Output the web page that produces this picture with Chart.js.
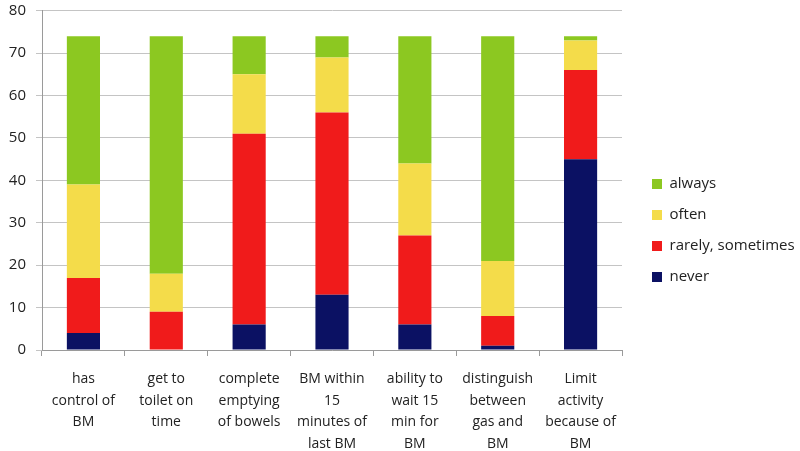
<!DOCTYPE html><html lang="en">
<head>
  <meta charset="UTF-8" />
  <title>BM questionnaire</title>
  <style>
    * { margin: 0; padding: 0; box-sizing: border-box; }
    body { background: #fff; width: 800px; height: 451px; overflow: hidden; }
    #wrap { position: relative; width: 800px; height: 451px; }
  </style>
</head>
<body>
  <div id="wrap"><canvas id="bmChart"></canvas></div>
  <script src="https://cdn.jsdelivr.net/npm/chart.js"></script>
  <script>
    const categories = [
      ["has", "control of", "BM"],
      ["get to", "toilet on", "time"],
      ["complete", "emptying", "of bowels"],
      ["BM within", "15", "minutes of", "last BM"],
      ["ability to", "wait 15", "min for", "BM"],
      ["distinguish", "between", "gas and", "BM"],
      ["Limit", "activity", "because of", "BM"]
    ];
    const never     = [4, 0, 6, 13, 6, 1, 45];
    const rarely    = [13, 9, 45, 43, 21, 7, 21];
    const often     = [22, 9, 14, 13, 17, 13, 7];
    const always    = [35, 56, 9, 5, 30, 53, 1];
    const yTicks = [0, 10, 20, 30, 40, 50, 60, 70, 80];

    const font = "'Open Sans', 'DejaVu Sans', sans-serif";

    const ds = (label, data, color) => ({
      label, data, backgroundColor: color, borderWidth: 0,
      barPercentage: 0.4, categoryPercentage: 1.0
    });

    // legend sits a bit further from the plot than chart.js puts it
    const legendSpot = {
      id: 'legendSpot',
      afterInit(chart) {
        const lg = chart.legend;
        const fit = lg.fit;
        lg.fit = function () { fit.call(this); this.width = 178; };
      },
      afterLayout(chart) {
        chart.legend.left += 14;
        chart.legend.right += 14;
      }
    };

    new Chart(document.getElementById('bmChart'), {
      type: 'bar',
      data: {
        labels: categories,
        datasets: [
          ds('never', never, '#0b1163'),
          ds('rarely, sometimes', rarely, '#f01b1b'),
          ds('often', often, '#f4dc4a'),
          ds('always', always, '#8cc821')
        ]
      },
      plugins: [legendSpot],
      options: {
        responsive: true,
        maintainAspectRatio: false,
        animation: false,
        layout: { padding: { top: 10, left: 0, right: 0, bottom: 0 } },
        plugins: {
          tooltip: { enabled: false },
          legend: {
            position: 'right',
            reverse: true,
            labels: {
              boxWidth: 10, boxHeight: 10, padding: 16,
              color: '#222',
              font: { family: font, size: 15 }
            }
          }
        },
        scales: {
          x: {
            stacked: true,
            grid: { offset: true, drawOnChartArea: false, drawTicks: true, tickLength: 6, color: '#9a9a9a' },
            border: { color: '#9a9a9a' },
            ticks: { color: '#222', padding: 12, maxRotation: 0, autoSkip: false, font: { family: font, size: 14, lineHeight: 1.55 } },
            afterFit: s => { s.height = 101; }
          },
          y: {
            stacked: true,
            min: 0, max: 80,
            afterBuildTicks: s => { s.ticks = yTicks.map(v => ({ value: v })); },
            grid: { color: '#c4c4c4', tickLength: 6 },
            border: { color: '#9a9a9a' },
            ticks: { color: '#222', padding: 10, font: { family: font, size: 15, lineHeight: 0.1 } },
            afterFit: s => { s.width = 42; }
          }
        }
      }
    });
  </script>
</body>
</html>
